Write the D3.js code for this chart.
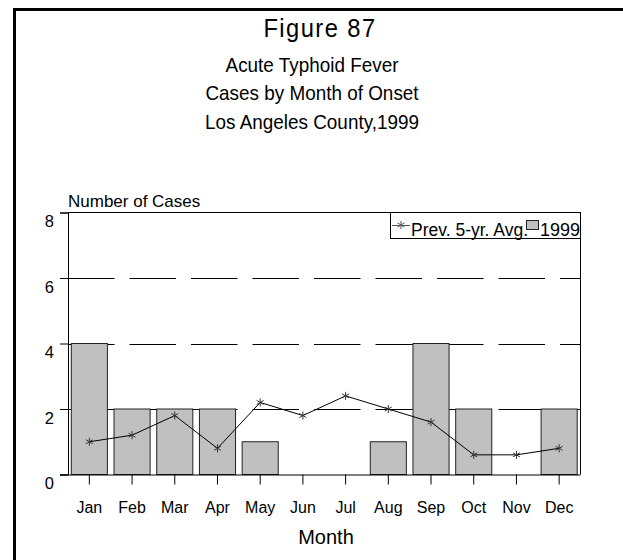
<!DOCTYPE html>
<html>
<head>
<meta charset="utf-8">
<script src="https://cdn.jsdelivr.net/npm/d3@7"></script>
<style>
  html, body { margin: 0; padding: 0; background: #fff; }
  svg { display: block; font-family: "Liberation Sans", Arial, sans-serif; }
</style>
</head>
<body>
<svg id="chart" width="623" height="560"></svg>
<script>
const months = ["Jan","Feb","Mar","Apr","May","Jun","Jul","Aug","Sep","Oct","Nov","Dec"];
const cases1999 = [4, 2, 2, 2, 1, 0, 0, 1, 4, 2, 0, 2];
const prev5yrAvg = [1.0, 1.2, 1.8, 0.8, 2.2, 1.8, 2.4, 2.0, 1.6, 0.6, 0.6, 0.8];
const yTicks = [0, 2, 4, 6, 8];
const titleLines = ["Acute Typhoid Fever", "Cases by Month of Onset", "Los Angeles County,1999"];
const figureLabel = "Figure 87";
const legendLabels = ["Prev. 5-yr. Avg.", "1999"];

(function () {
const svg = d3.select("#chart");
const pL = 68, pR = 580.5, pT = 212.5, pB = 474.5;

// outer frame
svg.append("rect").attr("x", 14.5).attr("y", 9.5).attr("width", 700).attr("height", 700)
  .attr("fill", "none").attr("stroke", "#000").attr("stroke-width", 3);

// titles
svg.append("text").attr("transform", "translate(320,37) scale(0.95,1)").attr("text-anchor", "middle")
  .attr("font-size", 25).attr("letter-spacing", 1.5).text(figureLabel);
titleLines.forEach((t, i) => {
  svg.append("text").attr("transform", `translate(312,${71.5 + i * 28.5}) scale(0.9,1)`).attr("text-anchor", "middle")
    .attr("font-size", 21).text(t);
});

const x = d3.scaleBand().domain(months).range([pL, pR]).paddingInner(0.155).paddingOuter(0.0775);
const y = d3.scaleLinear().domain([0, 8]).range([pB, pT]);

// gridlines (dashed)
const g = svg.append("g");
g.selectAll("line.grid").data(yTicks.filter(d => d > 0 && d < 8)).join("line")
  .attr("x1", pL).attr("x2", pR).attr("y1", d => Math.round(y(d)) + 0.5).attr("y2", d => Math.round(y(d)) + 0.5)
  .attr("stroke", "#000").attr("stroke-width", 1).attr("stroke-dasharray", "46.5,15");

// bars
g.selectAll("rect.bar").data(months).join("rect")
  .attr("x", (d) => x(d)).attr("width", x.bandwidth())
  .attr("y", (d, i) => y(cases1999[i])).attr("height", (d, i) => y(0) - y(cases1999[i]))
  .attr("fill", "#c0c0c0").attr("stroke", "#222").attr("stroke-width", 1)
  .style("display", (d, i) => cases1999[i] > 0 ? null : "none");

// plot frame: top and right
svg.append("line").attr("x1", pL).attr("x2", pR).attr("y1", pT).attr("y2", pT).attr("stroke", "#000");
svg.append("line").attr("x1", pR).attr("x2", pR).attr("y1", pT).attr("y2", pB).attr("stroke", "#000");

// y axis
const yAxis = svg.append("g").attr("transform", `translate(${pL},0)`)
  .call(d3.axisLeft(y).tickValues(yTicks).tickSize(8).tickPadding(6).tickFormat(d3.format("d")));
yAxis.select(".domain").attr("stroke", "#000");
yAxis.selectAll("text").attr("font-size", 16.5).attr("fill", "#000").attr("dy", "0.85em")
  .attr("font-family", "Liberation Sans, Arial, sans-serif");

// x axis
const xAxis = svg.append("g").attr("transform", `translate(0,${pB})`)
  .call(d3.axisBottom(x).tickSize(10).tickPadding(17).tickSizeOuter(0));
xAxis.select(".domain").attr("d", `M${pL - 8},0.5H${pR}`);
xAxis.selectAll("text").attr("font-size", 16).attr("fill", "#000")
  .attr("font-family", "Liberation Sans, Arial, sans-serif");

// line series
const line = d3.line().x((d, i) => x(months[i]) + x.bandwidth() / 2).y(d => y(d));
svg.append("path").datum(prev5yrAvg).attr("d", line).attr("fill", "none").attr("stroke", "#000").attr("stroke-width", 1);
const star = d3.symbol().type(d3.symbolAsterisk).size(45);
svg.selectAll("path.star").data(prev5yrAvg).join("path")
  .attr("transform", (d, i) => `translate(${x(months[i]) + x.bandwidth() / 2},${y(d)})`)
  .attr("d", star).attr("fill", "none").attr("stroke", "#333").attr("stroke-width", 1);

// axis titles
svg.append("text").attr("x", 68).attr("y", 207).attr("font-size", 17).text("Number of Cases");
svg.append("text").attr("x", 326).attr("y", 544).attr("text-anchor", "middle").attr("font-size", 20).text("Month");

// legend
const lg = svg.append("g");
lg.append("rect").attr("x", 390.5).attr("y", 212.5).attr("width", 190).attr("height", 26)
  .attr("fill", "#fff").attr("stroke", "#000");
lg.append("path").attr("transform", "translate(401,225)").attr("d", star).attr("fill", "none").attr("stroke", "#555");
lg.append("line").attr("x1", 392).attr("x2", 410).attr("y1", 225.5).attr("y2", 225.5).attr("stroke", "#555");
lg.append("text").attr("x", 411).attr("y", 235.5).attr("font-size", 17.5).text(legendLabels[0]);
lg.append("rect").attr("x", 526.5).attr("y", 220.5).attr("width", 12).attr("height", 9)
  .attr("fill", "#c0c0c0").attr("stroke", "#222");
lg.append("text").attr("x", 540).attr("y", 235.5).attr("font-size", 18).text(legendLabels[1]);
})();
</script>
</body>
</html>
